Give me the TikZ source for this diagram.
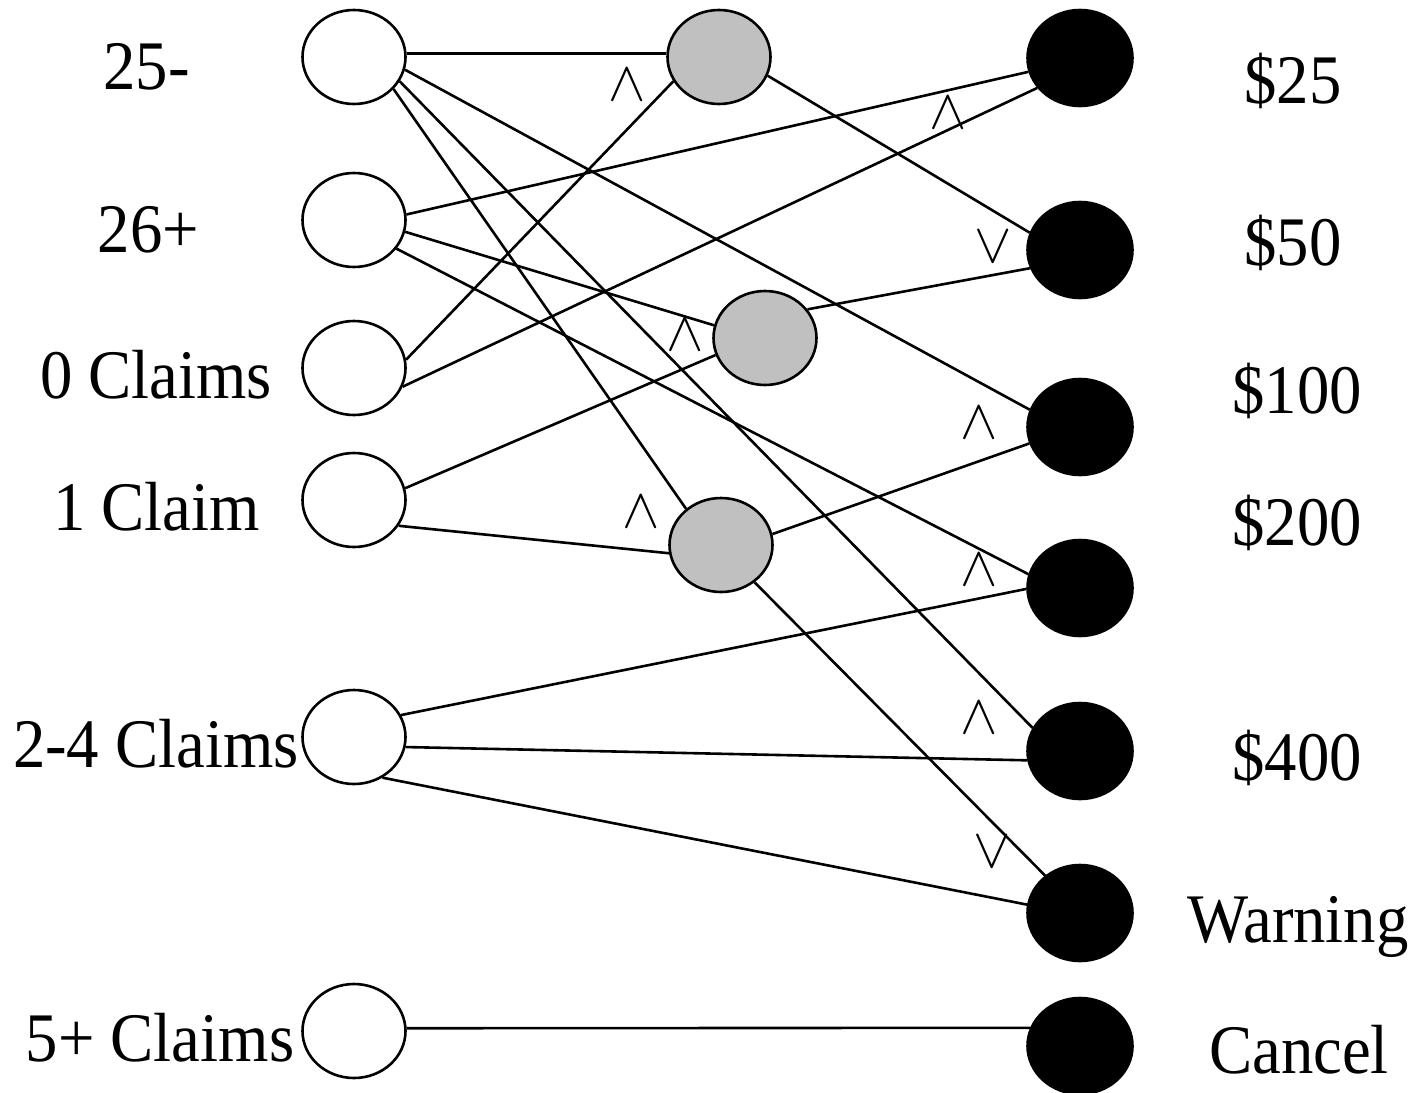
\RequirePackage{fix-cm}
\documentclass[tikz,border=0pt]{standalone}
\usepackage{fontspec}
\setmainfont{Liberation Serif}[FakeStretch=0.93]
\usetikzlibrary{shapes.geometric}
\definecolor{silverfill}{RGB}{192,192,192}
\begin{document}
\begin{tikzpicture}[x=0.5pt,y=-0.5pt,
  inp/.style={ellipse, draw=black, line width=1.3pt, fill=white,
    minimum width=51.5pt, minimum height=47pt, inner sep=0pt},
  hid/.style={inp, fill=silverfill},
  outp/.style={inp, fill=black, minimum width=52.5pt, minimum height=48pt},
  lbl/.style={anchor=base, inner sep=0pt, font=\fontsize{34.8}{40}\selectfont},
  mk/.style={inner sep=0pt, font=\fontsize{28}{28}\selectfont},
  conn/.style={line width=1.3pt, draw=black}]
\useasboundingbox (0,0) rectangle (1418,1092);
% input nodes
\node[inp] (L1) at (354,57) {};
\node[inp] (L2) at (354,220) {};
\node[inp] (L3) at (354,368) {};
\node[inp] (L4) at (354,500) {};
\node[inp] (L5) at (354,737) {};
\node[inp] (L6) at (354,1031) {};
% hidden nodes
\node[hid] (G1) at (719,57) {};
\node[hid] (G2) at (765,338) {};
\node[hid] (G3) at (721,545) {};
% output nodes
\node[outp] (B1) at (1080,58) {};
\node[outp] (B2) at (1080,250) {};
\node[outp] (B3) at (1080,427) {};
\node[outp] (B4) at (1080,588) {};
\node[outp] (B5) at (1080,751) {};
\node[outp] (B6) at (1080,913) {};
\node[outp] (B7) at (1080,1046) {};
% labels
\node[lbl] (t1) at (146.5,89) {25-};
\node[lbl] (t2) at (148.5,252) {26+};
\node[lbl] (t3) at (156,398) {0 Claims};
\node[lbl] (t4) at (156.5,530) {1 Claim};
\node[lbl] (t5) at (156,767) {2-4 Claims};
\node[lbl] (t6) at (160,1061) {5+ Claims};
\node[lbl] (r1) at (1293,103) {\$25};
\node[lbl] (r2) at (1293,265) {\$50};
\node[lbl] (r3) at (1297,413) {\$100};
\node[lbl] (r4) at (1297,545) {\$200};
\node[lbl] (r5) at (1297,780) {\$400};
\node[lbl] (r6) at (1298,942) {Warning};
\node[lbl] (r7) at (1299,1073) {Cancel};
% connectors
\draw[conn] (L1.4) -- (G1.176);
\draw[conn] (L1.-14) -- (B3.161);
\draw[conn] (L1.-28) -- (B5.154);
\draw[conn] (L1.-39) -- (G3.134);
\draw[conn] (L2.6) -- (B1.-165);
\draw[conn] (L2.-13) -- (G2.166);
\draw[conn] (L2.-34) -- (B4.165);
\draw[conn] (L3.9) -- (G1.-152);
\draw[conn] (L3.-21) -- (B1.-145);
\draw[conn] (L4.13) -- (G2.-161);
\draw[conn] (L4.-30) -- (G3.-171);
\draw[conn] (G1.-21) -- (B2.161);
\draw[conn] (G2.34) -- (B2.-160);
\draw[conn] (G3.12) -- (B3.-162);
\draw[conn] (G3.-48) -- (B6.133);
\draw[conn] (L5.25) -- (B4.-179);
\draw[conn] (L5.-11) -- (B5.-170);
\draw[conn] (L5.-55) -- (B6.171);
\draw[conn] (L6.3) -- (B7.160);
% markers
\node[mk] (m1) at (627,85) {$\wedge$};
\node[mk] (m2) at (685,335) {$\wedge$};
\node[mk] (m3) at (948,113) {$\wedge$};
\node[mk] (m4) at (993,247) {$\vee$};
\node[mk] (m5) at (979,423) {$\wedge$};
\node[mk] (m6) at (641,512) {$\wedge$};
\node[mk] (m7) at (979,570) {$\wedge$};
\node[mk] (m8) at (979,718) {$\wedge$};
\node[mk] (m9) at (992,852) {$\vee$};
\end{tikzpicture}
\end{document}
